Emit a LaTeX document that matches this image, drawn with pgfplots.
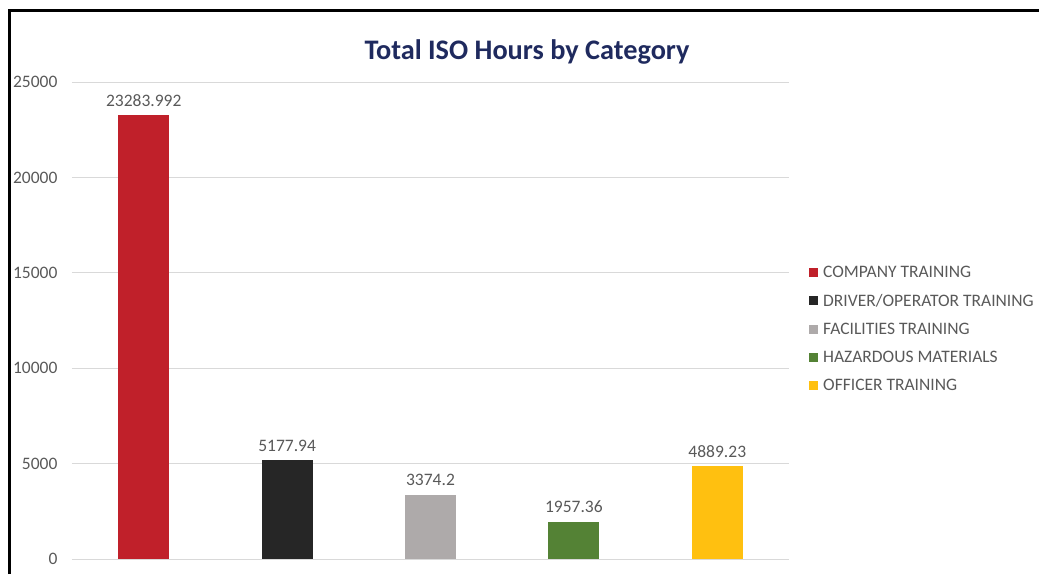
\documentclass[border=0pt]{standalone}
\usepackage{pgfplots}
\pgfplotsset{compat=1.18}
\usepackage{fontspec}
\setmainfont{Carlito}
\definecolor{txt}{HTML}{595959}
\definecolor{gridc}{HTML}{D9D9D9}
\definecolor{cred}{HTML}{C0202A}
\definecolor{cblack}{HTML}{262626}
\definecolor{cgray}{HTML}{AEAAAA}
\definecolor{cgreen}{HTML}{548235}
\definecolor{cyellow}{HTML}{FFC010}
\definecolor{navy}{HTML}{1F2A5E}
\begin{document}
\begin{tikzpicture}[x=1pt,y=1pt]
\path[use as bounding box] (0,0) rectangle (1039,574);
\draw[line width=3pt,black] (9,0) -- (9,563) -- (1039,563);
\node[font=\fontsize{28.3}{32}\selectfont\bfseries, text=navy] at (527,522) {Total ISO Hours by Category};
\begin{axis}[
  at={(72pt,15pt)}, anchor=south west,
  scale only axis, width=717pt, height=477pt,
  xmin=-0.5, xmax=4.5, ymin=0, ymax=25000,
  xtick=\empty,
  ytick={0,5000,10000,15000,20000,25000},
  scaled y ticks=false,
  ymajorgrids, grid style={gridc, line width=1pt},
  axis line style={draw=none},
  major tick length=0pt,
  yticklabel style={font=\fontsize{17.5}{20}\selectfont, text=txt, xshift=-11pt},
  /pgf/number format/assume math mode=true,
  /pgf/number format/set thousands separator={},
  ybar, bar width=51pt, bar shift=0pt,
  clip=false,
  nodes near coords,
  point meta=explicit symbolic,
  every node near coord/.append style={font=\fontsize{17.5}{20}\selectfont, text=txt, anchor=south, yshift=5pt},
  legend style={at={(rel axis cs:1,0.482)}, anchor=west, xshift=20pt, draw=none, fill=none,
    font=\fontsize{17.5}{20}\selectfont, text=txt, row sep=11.3pt, inner sep=0pt},
  legend cell align=left,
  legend image code/.code={\fill[#1] (0pt,-4.5pt) rectangle (9pt,4.5pt); \path (12pt,0pt);},
]
\addplot[fill=cred, draw=none] coordinates {(0,23283.992) [23283.992]};
\addlegendentry{COMPANY TRAINING}
\addplot[fill=cblack, draw=none] coordinates {(1,5177.94) [5177.94]};
\addlegendentry{DRIVER/OPERATOR TRAINING}
\addplot[fill=cgray, draw=none] coordinates {(2,3374.2) [3374.2]};
\addlegendentry{FACILITIES TRAINING}
\addplot[fill=cgreen, draw=none] coordinates {(3,1957.36) [1957.36]};
\addlegendentry{HAZARDOUS MATERIALS}
\addplot[fill=cyellow, draw=none] coordinates {(4,4889.23) [4889.23]};
\addlegendentry{OFFICER TRAINING}
\end{axis}
\end{tikzpicture}
\end{document}
